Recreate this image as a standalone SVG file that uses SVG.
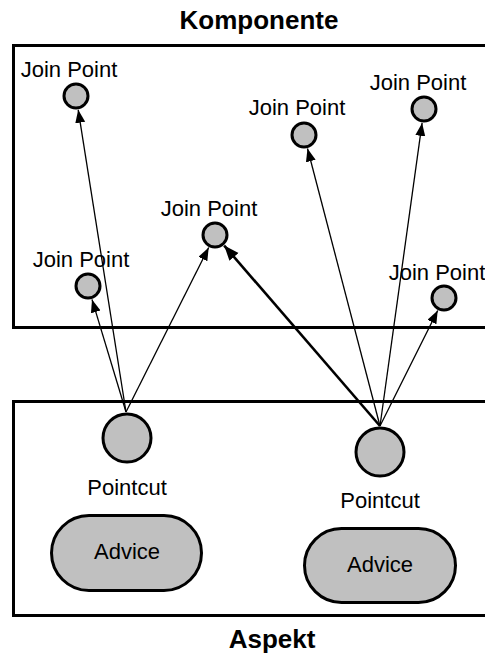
<svg xmlns="http://www.w3.org/2000/svg" width="485" height="658" viewBox="0 0 485 658">
<defs>
<style>
.frame{fill:none;stroke:#000;stroke-width:3}
.node{fill:#c0c0c0;stroke:#000;stroke-width:3}
.lbl{font-family:"Liberation Sans",Arial,sans-serif;font-size:22px;fill:#000;text-anchor:middle}
.title{font-family:"Liberation Sans",Arial,sans-serif;font-size:26px;font-weight:bold;fill:#000;text-anchor:middle}
.thin{stroke:#000;stroke-width:1.3;fill:none;marker-end:url(#ah)}
.thick{stroke:#000;stroke-width:2.6;fill:none;marker-end:url(#ahb)}
</style>
<marker id="ah" markerUnits="userSpaceOnUse" markerWidth="14" markerHeight="12" refX="13" refY="5" orient="auto">
<path d="M0,0 L13,5 L0,10 Z" fill="#000"/>
</marker>
<marker id="ahb" markerUnits="userSpaceOnUse" markerWidth="16" markerHeight="14" refX="15" refY="6" orient="auto">
<path d="M0,0 L15,6 L0,12 Z" fill="#000"/>
</marker>
</defs>
<rect x="0" y="0" width="485" height="658" fill="#fff"/>
<g id="komponente">
<rect class="frame" x="13.5" y="45.5" width="490" height="282"/>
<text class="title" x="259" y="29">Komponente</text>
</g>
<g id="aspekt">
<rect class="frame" x="13.5" y="401.5" width="490" height="214"/>
<text class="title" x="272" y="648">Aspekt</text>
</g>
<g id="connectors">
<line class="thin" x1="126" y1="412" x2="78.2" y2="109.8"/>
<line class="thin" x1="126" y1="412" x2="92" y2="299.4"/>
<line class="thin" x1="126" y1="412" x2="208.7" y2="247.5"/>
<line class="thick" x1="380" y1="426" x2="224.2" y2="245.6"/>
<line class="thin" x1="380" y1="426" x2="307.5" y2="148.5"/>
<line class="thin" x1="380" y1="426" x2="422.1" y2="122.9"/>
<line class="thin" x1="380" y1="426" x2="437.7" y2="310.5"/>
</g>
<g id="jp1"><circle class="node" cx="76" cy="96" r="12"/><text class="lbl" x="69" y="77">Join Point</text></g>
<g id="jp2"><circle class="node" cx="215" cy="235" r="12"/><text class="lbl" x="209" y="216">Join Point</text></g>
<g id="jp3"><circle class="node" cx="88" cy="286" r="12"/><text class="lbl" x="81" y="267">Join Point</text></g>
<g id="jp4"><circle class="node" cx="304" cy="135" r="12"/><text class="lbl" x="297" y="115">Join Point</text></g>
<g id="jp5"><circle class="node" cx="424" cy="109" r="12"/><text class="lbl" x="418" y="90">Join Point</text></g>
<g id="jp6"><circle class="node" cx="444" cy="298" r="12"/><text class="lbl" x="437" y="280">Join Point</text></g>
<g id="pointcut1"><circle class="node" cx="127" cy="438" r="24"/><text class="lbl" x="127" y="495">Pointcut</text></g>
<g id="pointcut2"><circle class="node" cx="380" cy="452" r="24"/><text class="lbl" x="380" y="508">Pointcut</text></g>
<g id="advice1"><rect class="node" x="51.5" y="515.5" width="150" height="75" rx="37.5"/><text class="lbl" x="127" y="559">Advice</text></g>
<g id="advice2"><rect class="node" x="304.5" y="528.5" width="151" height="74" rx="37"/><text class="lbl" x="380" y="572">Advice</text></g>
</svg>
